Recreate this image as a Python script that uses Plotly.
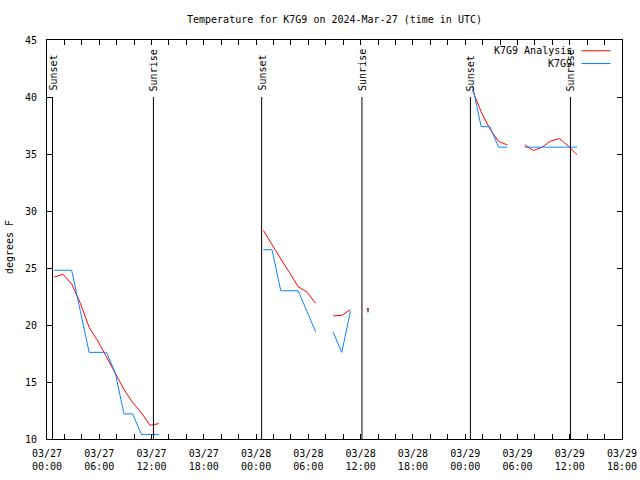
import pandas as pd
import plotly.graph_objects as go

# ---- data (hourly observations starting 2024-03-27 00:50 UTC) ----
start_time = "2024-03-27 00:50"
n_hours = 61
obs_temp = [24.8, 24.8, 24.8, 21.2, 17.6, 17.6, 17.6, 15.8, 12.2, 12.2, 10.4, 10.4, 10.4,
            None, None, None, None, None, None, None, None, None, None, None,
            26.6, 26.6, 23.0, 23.0, 23.0, 21.2, 19.4, None, 19.4, 17.6, 21.2, None, 21.2,
            None, None, None, None, None, None, None, None, None, None, None,
            41.0, 37.4, 37.4, 35.6, 35.6, None,
            35.6, 35.6, 35.6, 35.6, 35.6, 35.6, 35.6]
ana_temp = [24.2, 24.45, 23.6, 21.9, 19.8, 18.6, 17.2, 15.8, 14.35, 13.2, 12.3, 11.2, 11.35,
            None, None, None, None, None, None, None, None, None, None, None,
            28.3, 27.0, 25.8, 24.6, 23.35, 22.9, 21.9, None, 20.8, 20.85, 21.35, None, 21.4,
            None, None, None, None, None, None, None, None, None, None, None,
            40.6, 38.7, 37.2, 36.1, 35.8, None,
            35.8, 35.3, 35.6, 36.15, 36.35, 35.7, 34.95]
sun_times = ["2024-03-27 00:38", "2024-03-27 12:13", "2024-03-28 00:38",
             "2024-03-28 12:09", "2024-03-29 00:36", "2024-03-29 12:05"]
sun_labels = ["Sunset", "Sunrise", "Sunset", "Sunrise", "Sunset", "Sunrise"]
tick_times = pd.date_range("2024-03-27 00:00", "2024-03-29 18:00", freq="6h")
tick_text = [t.strftime("%m/%d") + "<br>" + t.strftime("%H:%M") for t in tick_times]

times = pd.date_range(start_time, periods=n_hours, freq="1h")

RED = "#ff0000"
BLUE = "#0a84ff"
FONT = "DejaVu Sans Mono"


def isolated(vals):
    xs, ys = [], []
    for i, v in enumerate(vals):
        if v is None:
            continue
        prev_none = i == 0 or vals[i - 1] is None
        next_none = i == len(vals) - 1 or vals[i + 1] is None
        if prev_none and next_none:
            xs.append(times[i])
            ys.append(v)
    return xs, ys


fig = go.Figure()
fig.add_trace(go.Scatter(x=times, y=ana_temp, mode="lines", line=dict(color=RED, width=1),
                         name="K7G9 Analysis", connectgaps=False, showlegend=False))
fig.add_trace(go.Scatter(x=times, y=obs_temp, mode="lines", line=dict(color=BLUE, width=1),
                         name="K7G9", connectgaps=False, showlegend=False))
for vals, col in ((ana_temp, RED), (obs_temp, BLUE)):
    ix, iy = isolated(vals)
    fig.add_trace(go.Scatter(x=ix, y=iy, mode="markers",
                             marker=dict(color=col, size=2, symbol="square", line=dict(width=0)),
                             showlegend=False))

for t, lab in zip(sun_times, sun_labels):
    fig.add_shape(type="line", xref="x", yref="y", x0=t, x1=t, y0=40, y1=10,
                  line=dict(color="black", width=1))
    fig.add_annotation(x=t, y=40, xref="x", yref="y", text=lab, textangle=-90,
                       showarrow=False, yanchor="bottom", xanchor="center", yshift=4,
                       font=dict(family=FONT, size=10, color="black"))

# legend drawn gnuplot-style (text right-aligned, sample to the right)
for row, (lab, col) in enumerate((("K7G9 Analysis", RED), ("K7G9", BLUE))):
    yp = 0.973 - row * 0.032
    fig.add_annotation(x=0.917, y=yp, xref="paper", yref="paper", text=lab, showarrow=False,
                       xanchor="right", yanchor="middle",
                       font=dict(family=FONT, size=10, color="black"))
    fig.add_shape(type="line", xref="paper", yref="paper", x0=0.9296, x1=0.98, y0=yp, y1=yp,
                  line=dict(color=col, width=1))

fig.add_annotation(x=-0.065, y=0.48, xref="paper", yref="paper", text="degrees F",
                   textangle=-90, showarrow=False, xanchor="center", yanchor="middle",
                   font=dict(family=FONT, size=10, color="black"))

fig.update_layout(
    width=640, height=480,
    margin=dict(l=47, r=18, t=40, b=41, autoexpand=False),
    paper_bgcolor="white", plot_bgcolor="white",
    font=dict(family=FONT, size=10, color="black"),
    title=dict(text="Temperature for K7G9 on 2024-Mar-27 (time in UTC)", x=0.5, xref="paper",
               y=1 - 19 / 480, yref="container", yanchor="middle",
               font=dict(family=FONT, size=10, color="black")),
    showlegend=False,
)
fig.update_xaxes(type="date", range=["2024-03-27 00:00", "2024-03-29 18:00"],
                 tickmode="array", tickvals=tick_times, ticktext=tick_text,
                 ticks="inside", ticklen=5, tickcolor="black", ticklabelstandoff=5,
                 minor=dict(tick0="2024-03-27 00:00", dtick=2 * 3600 * 1000, ticks="inside",
                            ticklen=5, tickcolor="black"),
                 showline=True, linecolor="black", linewidth=1, mirror="allticks",
                 showgrid=False, zeroline=False, automargin=False)
fig.update_yaxes(range=[10, 45], dtick=5, tick0=10, ticks="inside", ticklen=5, tickcolor="black",
                 ticklabelstandoff=7,
                 showline=True, linecolor="black", linewidth=1, mirror="allticks",
                 showgrid=False, zeroline=False, automargin=False)

fig.write_html("out.html", config={"displayModeBar": False},
               post_script="document.body.style.margin='0';document.body.style.padding='0';")
